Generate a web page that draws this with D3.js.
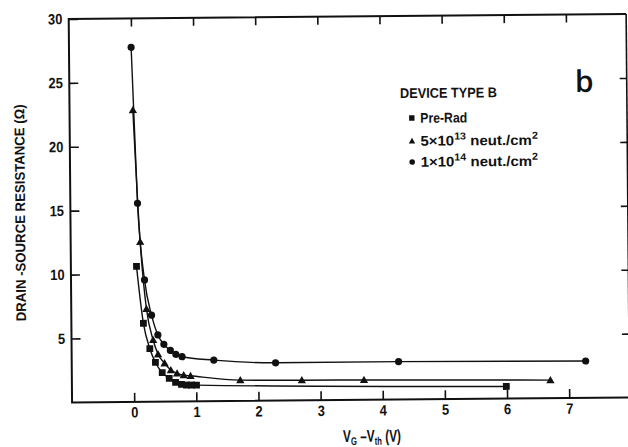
<!DOCTYPE html>
<html>
<head>
<meta charset="utf-8">
<script src="https://cdn.jsdelivr.net/npm/d3@7"></script>
<style>
  html, body { margin: 0; padding: 0; background: #fff; }
  svg text {
    font-family: "Liberation Sans", Arial, sans-serif;
    font-weight: bold;
    fill: #111;
  }
</style>
</head>
<body>
<svg id="chart" width="628" height="447"></svg>
<script>
// Drain-source resistance vs gate overdrive, device type B
const xTickValues = [0, 1, 2, 3, 4, 5, 6, 7];
const yTickValues = [5, 10, 15, 20, 25, 30];

const preRadV = [0.056, 0.159, 0.259, 0.347, 0.455, 0.567, 0.668, 0.763, 0.843, 0.924, 1.005, 5.99];
const preRadR = [10.6, 6.14, 4.15, 3.07, 2.27, 1.81, 1.50, 1.34, 1.28, 1.28, 1.27, 0.95];

const n5e13V = [0.019, 0.118, 0.21, 0.313, 0.39, 0.494, 0.594, 0.694, 0.80, 0.91, 1.71, 2.70, 3.70, 6.70];
const n5e13R = [22.83, 12.52, 7.26, 4.83, 3.71, 3.00, 2.46, 2.20, 2.06, 2.00, 1.63, 1.58, 1.56, 1.42];

const n1e14V = [0.0, 0.081, 0.183, 0.291, 0.39, 0.485, 0.589, 0.676, 0.776, 1.287, 2.28, 4.26, 7.27];
const n1e14R = [27.74, 15.53, 9.53, 6.77, 5.22, 4.48, 4.00, 3.69, 3.50, 3.21, 2.96, 2.97, 2.89];

const seriesNames = ["Pre-Rad", "5×10|13| neut./cm|2|", "1×10|14| neut./cm|2|"];
const legendTitle = "DEVICE TYPE B";
const yTitle = "DRAIN -SOURCE RESISTANCE (Ω)";
const panelLabel = "b";

const svg = d3.select("#chart");
// the whole figure sits at a slight tilt
const root = svg.append("g").attr("transform", "rotate(-0.5, 348, 210)");

const x = d3.scaleLinear().domain([-1, 8]).range([70.4, 629.7]);
const y = d3.scaleLinear().domain([0, 30]).range([400, 16.5]);

const frameL = x(-1), frameR = x(7.97), frameT = y(30), frameB = y(0);

// squeeze a text element horizontally so it spans a given width
function fitText(sel, width, tx, ty, rot) {
  const w = sel.node().getBBox().width;
  const k = width / w;
  sel.attr("transform", `translate(${tx},${ty})${rot ? ` rotate(${rot})` : ""} scale(${k},1)`);
}

// frame
root.append("path")
  .attr("d", `M${frameR},${frameT} L${frameL},${frameT} L${frameL},${frameB} L${frameR + 10},${frameB}`)
  .attr("fill", "none").attr("stroke", "#111").attr("stroke-width", 2);
root.append("line")
  .attr("x1", frameR).attr("x2", frameR).attr("y1", frameT).attr("y2", frameB)
  .attr("stroke", "#111").attr("stroke-width", 1.6);

function styleAxis(g) {
  g.select(".domain").remove();
  g.selectAll(".tick line").attr("stroke", "#111").attr("stroke-width", 1.6);
  g.selectAll(".tick text").style("font-size", "15px").attr("fill", "#111")
    .attr("transform", "scale(0.86,1)");
}

root.append("g").attr("transform", `translate(0,${frameB})`)
  .call(d3.axisBottom(x).tickValues(xTickValues).tickSize(-9).tickPadding(5).tickFormat(d3.format("d")))
  .call(styleAxis);

root.append("g").attr("transform", `translate(0,${frameT})`)
  .call(d3.axisTop(x).tickValues(xTickValues).tickSize(-8).tickFormat(""))
  .call(styleAxis);

root.append("g").attr("transform", `translate(${frameL},0)`)
  .call(d3.axisLeft(y).tickValues(yTickValues).tickSize(-9).tickPadding(7.5).tickFormat(d3.format("d")))
  .call(styleAxis);

root.append("g").attr("transform", `translate(${frameR},0)`)
  .call(d3.axisRight(y).tickValues(yTickValues.slice(0, -1)).tickSize(-7).tickFormat(""))
  .call(styleAxis);

// curves and markers
const line = d3.line().x(d => x(d[0])).y(d => y(d[1])).curve(d3.curveMonotoneX);
const zipSeries = (vs, rs) => vs.map((v, i) => [v, rs[i]]);
const series = [
  { pts: zipSeries(preRadV, preRadR), shape: "square" },
  { pts: zipSeries(n5e13V, n5e13R), shape: "triangle" },
  { pts: zipSeries(n1e14V, n1e14R), shape: "circle" }
];

function drawMarker(g, shape, cx, cy, s) {
  if (shape === "square") {
    g.append("rect").attr("x", cx - s).attr("y", cy - s).attr("width", 2 * s).attr("height", 2 * s).attr("fill", "#111");
  } else if (shape === "triangle") {
    const h = s * 1.15;
    g.append("path").attr("d", `M${cx},${cy - h} L${cx + h},${cy + h * 0.75} L${cx - h},${cy + h * 0.75} Z`).attr("fill", "#111");
  } else {
    g.append("circle").attr("cx", cx).attr("cy", cy).attr("r", s).attr("fill", "#111");
  }
}

series.forEach(s => {
  root.append("path").datum(s.pts).attr("d", line)
    .attr("fill", "none").attr("stroke", "#111").attr("stroke-width", 1.4);
  const mg = root.append("g");
  s.pts.forEach(p => drawMarker(mg, s.shape, x(p[0]), y(p[1]), s.shape === "square" ? 3.4 : 3.6));
});

// axis titles
const xt = root.append("text").attr("text-anchor", "middle").style("font-size", "17px");
xt.append("tspan").text("V");
xt.append("tspan").text("G").attr("dy", 3).style("font-size", "11px");
xt.append("tspan").text(" –V").attr("dy", -3);
xt.append("tspan").text("th").attr("dy", 3).style("font-size", "11px");
xt.append("tspan").text(" (V)").attr("dy", -3);
fitText(xt, 58, 370, 442);

const yt = root.append("text").attr("text-anchor", "middle").style("font-size", "14px").text(yTitle);
fitText(yt, 217, 25, 210, -90);

// legend
const lg = root.append("g");
const lt = lg.append("text").style("font-size", "14px").text(legendTitle);
fitText(lt, 97, 401, 98.5);
const shapes = ["square", "triangle", "circle"];
const rowY = [118.6, 141.6, 162.6];
const rowW = [47, 118, 118];
seriesNames.forEach((name, i) => {
  drawMarker(lg, shapes[i], 412.6, rowY[i], shapes[i] === "square" ? 2.7 : 2.8);
  const t = lg.append("text").style("font-size", "14px");
  name.split("|").forEach((part, k) => {
    if (!part) return;
    const ts = t.append("tspan").text(part);
    if (k % 2 === 1) ts.attr("dy", -6).style("font-size", "10px");
    else if (k > 0) ts.attr("dy", 6);
  });
  fitText(t, rowW[i], 421, rowY[i] + 4.8);
});

root.append("text").attr("x", 576).attr("y", 94)
  .style("font-family", "'Open Sans', 'DejaVu Sans', sans-serif").style("font-weight", "600")
  .style("font-size", "30px").text(panelLabel);
</script>
</body>
</html>
